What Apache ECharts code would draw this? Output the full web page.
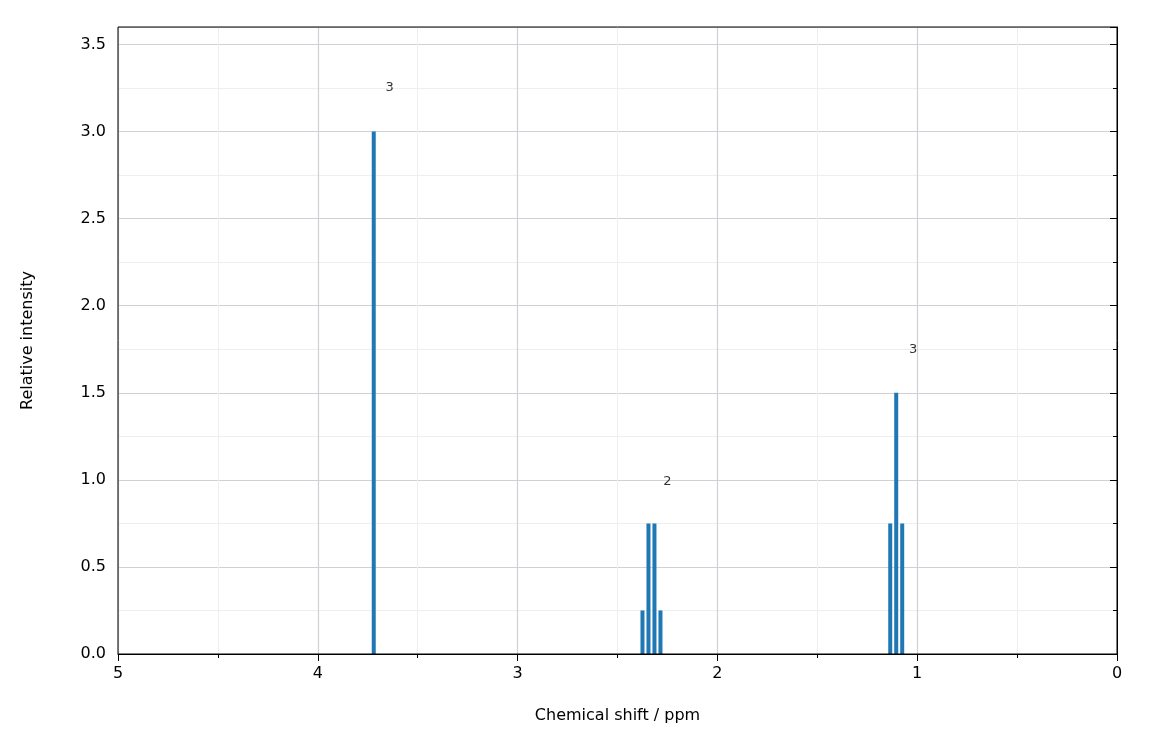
<!DOCTYPE html><html><head><meta charset="utf-8"><script src="https://cdn.jsdelivr.net/npm/echarts@6/dist/echarts.min.js"></script></head><body style="margin:0"><div id="c" style="width:1152px;height:756px"></div><script>
const shifts=[3.72,2.375,2.345,2.315,2.285,1.135,1.105,1.075];
const intensities=[3.0,0.25,0.75,0.75,0.25,0.75,1.5,0.75];
const labelPos=[[3.64,3.25],[2.25,0.99],[1.02,1.745]];
const labelText=['3','2','3'];
const ch=echarts.init(document.getElementById('c'));
const ax={color:'#000',fontSize:16,fontFamily:'DejaVu Sans'};
ch.setOption({animation:false,
grid:{left:118,right:35,top:27,bottom:102},
xAxis:{type:'value',inverse:true,min:0,max:5,interval:1,name:'Chemical shift / ppm',nameLocation:'middle',nameGap:54,nameTextStyle:{fontSize:16,color:'#000',fontFamily:'DejaVu Sans'},
axisLine:{onZero:false,lineStyle:{color:'#000'}},axisTick:{length:7,lineStyle:{color:'#000'}},axisLabel:Object.assign({margin:12},ax),
minorTick:{show:true,splitNumber:2,length:4,lineStyle:{color:'#000'}},splitLine:{show:true,lineStyle:{color:'#d0d0d8',width:1.2}},minorSplitLine:{show:true,lineStyle:{color:'#eeeeee'}}},
yAxis:{type:'value',min:0,max:3.6,interval:0.5,name:'Relative intensity',nameLocation:'middle',nameGap:82,nameTextStyle:{fontSize:16,color:'#000',fontFamily:'DejaVu Sans'},
axisLine:{show:true,lineStyle:{color:'#000'}},axisTick:{show:true,length:7,lineStyle:{color:'#000'}},axisLabel:Object.assign({margin:12,formatter:v=>(Math.abs(v-3.6)<1e-6?'':v.toFixed(1))},ax),
minorTick:{show:true,splitNumber:2,length:4,lineStyle:{color:'#000'}},splitLine:{show:true,lineStyle:{color:'#d0d0d8',width:1.2}},minorSplitLine:{show:true,lineStyle:{color:'#eeeeee'}}},
graphic:[{type:'rect',shape:{x:118,y:27,width:999,height:627},style:{fill:'none',stroke:'#000',lineWidth:1},z:100}],
series:[{type:'bar',barWidth:4,barGap:'-100%',itemStyle:{color:'#1f77b4'},data:shifts.map((s,i)=>[s,intensities[i]])},
{type:'scatter',symbolSize:0,data:labelPos.map((p,i)=>({value:p,label:{show:true,formatter:labelText[i],position:'inside',fontSize:13,color:'#000',fontFamily:'DejaVu Sans'}}))}]});
</script></body></html>
